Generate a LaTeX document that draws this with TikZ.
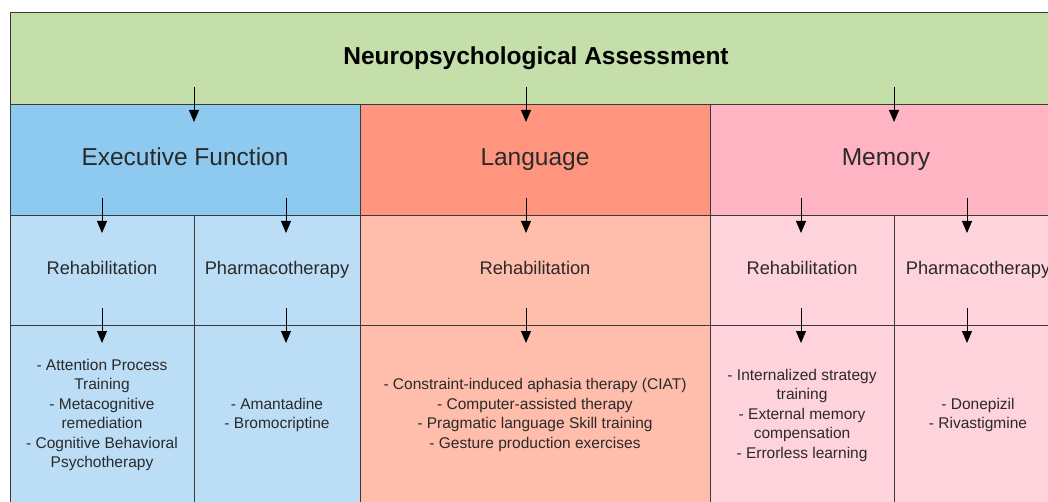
\documentclass[tikz,border=0pt]{standalone}
\usepackage{fontspec}
\setmainfont{Liberation Sans}
\usetikzlibrary{arrows.meta}
\definecolor{linegray}{HTML}{3A3A3A}
\definecolor{textgray}{HTML}{2A2A2A}
\definecolor{assessgreen}{HTML}{C4DFAA}
\definecolor{execblue}{HTML}{8ECAF0}
\definecolor{execlight}{HTML}{BBDDF6}
\definecolor{langred}{HTML}{FF957F}
\definecolor{langlight}{HTML}{FFBDAB}
\definecolor{mempink}{HTML}{FFB4C3}
\definecolor{memlight}{HTML}{FFD3DB}
\newcommand\headfont{\fontsize{24.5}{28}\selectfont}
\newcommand\subfont{\fontsize{18.3}{22}\selectfont}
\newcommand\listfont{\fontsize{15.5}{19.5}\selectfont}
\tikzset{cell/.style={rectangle,draw=linegray,line width=0.8pt,inner sep=0pt,outer sep=0pt,text=textgray,align=center},
         areabox/.style={cell,minimum height=111pt,text height=18pt,text depth=5pt,font=\headfont},
         method/.style={cell,minimum height=110pt,text height=13.5pt,text depth=4pt,font=\subfont},
         treat/.style={cell,minimum height=180pt,font=\listfont},
         arr/.style={line width=1pt,-{Triangle[width=10pt,length=12pt]}}}

\begin{document}
\begin{tikzpicture}[x=1pt,y=-1pt]
\useasboundingbox (0,0) rectangle (1048,502);
\fill[white] (0,0) rectangle (1048,502);

% top level
\node[cell,fill=assessgreen,minimum width=1052pt,minimum height=92pt,text=black,font=\bfseries\headfont] (assess) at (536,58) {Neuropsychological Assessment};

% domains
\node[areabox,fill=execblue,minimum width=350pt] (exec) at (185,159.5) {Executive Function};
\node[areabox,fill=langred,minimum width=350pt] (lang) at (535,159.5) {Language};
\node[areabox,fill=mempink,minimum width=352pt] (mem) at (886,159.5) {Memory};

% approaches
\node[method,fill=execlight,minimum width=184pt] (exrehab) at (102,270) {Rehabilitation};
\node[method,fill=execlight,minimum width=166pt] (expharm) at (277,270) {Pharmacotherapy};
\node[method,fill=langlight,minimum width=350pt] (larehab) at (535,270) {Rehabilitation};
\node[method,fill=memlight,minimum width=184pt] (merehab) at (802,270) {Rehabilitation};
\node[method,fill=memlight,minimum width=168pt] (mepharm) at (978,270) {Pharmacotherapy};

% treatments
\node[treat,fill=execlight,minimum width=184pt] (exrehabT) at (102,415) {- Attention Process\\Training\\- Metacognitive\\remediation\\- Cognitive Behavioral\\Psychotherapy};
\node[treat,fill=execlight,minimum width=166pt] (expharmT) at (277,415) {- Amantadine\\- Bromocriptine};
\node[treat,fill=langlight,minimum width=350pt] (larehabT) at (535,415) {- Constraint-induced aphasia therapy (CIAT)\\- Computer-assisted therapy\\- Pragmatic language Skill training\\- Gesture production exercises};
\node[treat,fill=memlight,minimum width=184pt] (merehabT) at (802,415) {- Internalized strategy\\training\\- External memory\\compensation\\- Errorless learning};
\node[treat,fill=memlight,minimum width=168pt] (mepharmT) at (978,415) {- Donepizil\\- Rivastigmine};

% arrows across the borders
\foreach \name/\x/\y in {ex/194/104, la/526/104, me/894/104,
                         exr/102/215, exp/286/215, lar/526/215, mer/801/215, mep/967/215,
                         exrT/102/325, expT/286/325, larT/526/325, merT/801/325, mepT/967/325}{
  \coordinate (\name-from) at (\x,\y-17);
  \coordinate (\name-to) at (\x,\y+18);
  \draw[arr] (\name-from) -- (\name-to);
}
\end{tikzpicture}
\end{document}
